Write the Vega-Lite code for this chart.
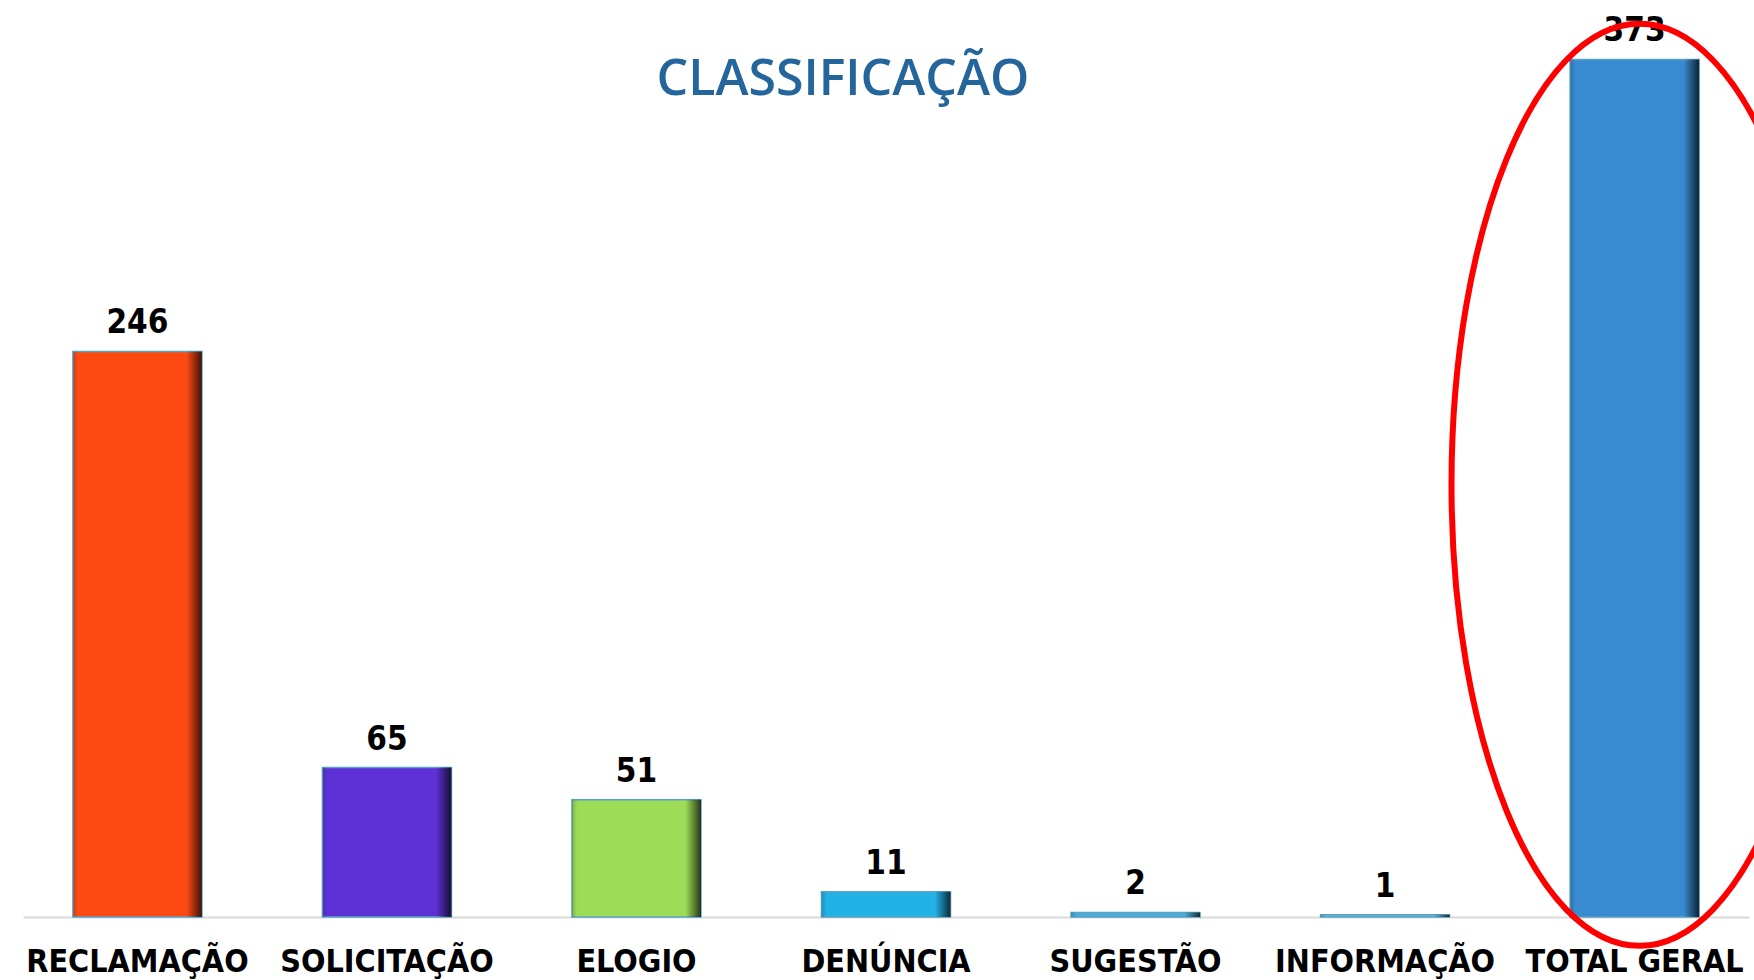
{
  "$schema": "https://vega.github.io/schema/vega-lite/v6.json",
  "width": 1726,
  "height": 915,
  "autosize": {"type": "none"},
  "padding": {"left": 23, "top": 2, "right": 5, "bottom": 63},
  "background": "white",
  "config": {"view": {"stroke": null}},
  "title": {
    "text": "CLASSIFICAÇÃO",
    "font": "Open Sans",
    "fontSize": 50,
    "fontWeight": 600,
    "color": "#24659B",
    "anchor": "middle",
    "frame": "group",
    "offset": 0,
    "baseline": "alphabetic",
    "dy": 143,
    "dx": -43
  },
  "data": {
    "values": [
      {"categoria": "RECLAMAÇÃO", "valor": 246},
      {"categoria": "SOLICITAÇÃO", "valor": 65},
      {"categoria": "ELOGIO", "valor": 51},
      {"categoria": "DENÚNCIA", "valor": 11},
      {"categoria": "SUGESTÃO", "valor": 2},
      {"categoria": "INFORMAÇÃO", "valor": 1},
      {"categoria": "TOTAL GERAL", "valor": 373}
    ]
  },
  "encoding": {
    "x": {
      "field": "categoria",
      "type": "nominal",
      "sort": null,
      "scale": {"paddingInner": 0.483, "paddingOuter": 0.2},
      "axis": {
        "title": null,
        "ticks": false,
        "labelAngle": 0,
        "labelLimit": 0,
        "labelFont": "DejaVu Sans Condensed",
        "labelFontSize": 32,
        "labelFontWeight": "bold",
        "labelColor": "#000000",
        "labelPadding": 29,
        "domainColor": "#D9D9D9",
        "domainWidth": 2
      }
    },
    "y": {
      "field": "valor",
      "type": "quantitative",
      "scale": {"domain": [0, 398]},
      "axis": null
    }
  },
  "layer": [
    {
      "mark": {"type": "bar", "stroke": "#5AA3C6", "strokeWidth": 1.5},
      "encoding": {
        "color": {
          "field": "categoria",
          "type": "nominal",
          "sort": null,
          "legend": null,
          "scale": {
            "domain": ["RECLAMAÇÃO", "SOLICITAÇÃO", "ELOGIO", "DENÚNCIA", "SUGESTÃO", "INFORMAÇÃO", "TOTAL GERAL"],
            "range": ["#FC4A12", "#5E31D6", "#9DDC56", "#22B2E6", "#4AADD8", "#6CC0E0", "#388BCE"]
          }
        }
      }
    },
    {
      "mark": {
        "type": "bar",
        "color": {
          "gradient": "linear",
          "x1": 0, "y1": 0, "x2": 1, "y2": 0,
          "stops": [
            {"offset": 0, "color": "rgba(0,0,0,0.18)"},
            {"offset": 0.04, "color": "rgba(0,0,0,0)"},
            {"offset": 0.88, "color": "rgba(0,0,0,0)"},
            {"offset": 1, "color": "rgba(0,0,0,0.75)"}
          ]
        }
      }
    },
    {
      "mark": {
        "type": "text",
        "font": "DejaVu Sans Condensed",
        "fontSize": 33,
        "fontWeight": "bold",
        "color": "#000000",
        "baseline": "alphabetic",
        "dy": -18
      },
      "encoding": {"text": {"field": "valor", "type": "quantitative"}}
    },
    {
      "data": {"values": [{"categoria": "TOTAL GERAL", "centro": 188}]},
      "mark": {
        "type": "point",
        "shape": "M0,-1C0.2253,-1,0.408,-0.5523,0.408,0C0.408,0.5523,0.2253,1,0,1C-0.2253,1,-0.408,0.5523,-0.408,0C-0.408,-0.5523,-0.2253,-1,0,-1Z",
        "filled": false,
        "stroke": "#FF0000",
        "strokeWidth": 6,
        "opacity": 1,
        "size": 850084,
        "xOffset": 5
      },
      "encoding": {
        "x": {"field": "categoria", "type": "nominal", "sort": null},
        "y": {"field": "centro", "type": "quantitative"}
      }
    }
  ]
}
